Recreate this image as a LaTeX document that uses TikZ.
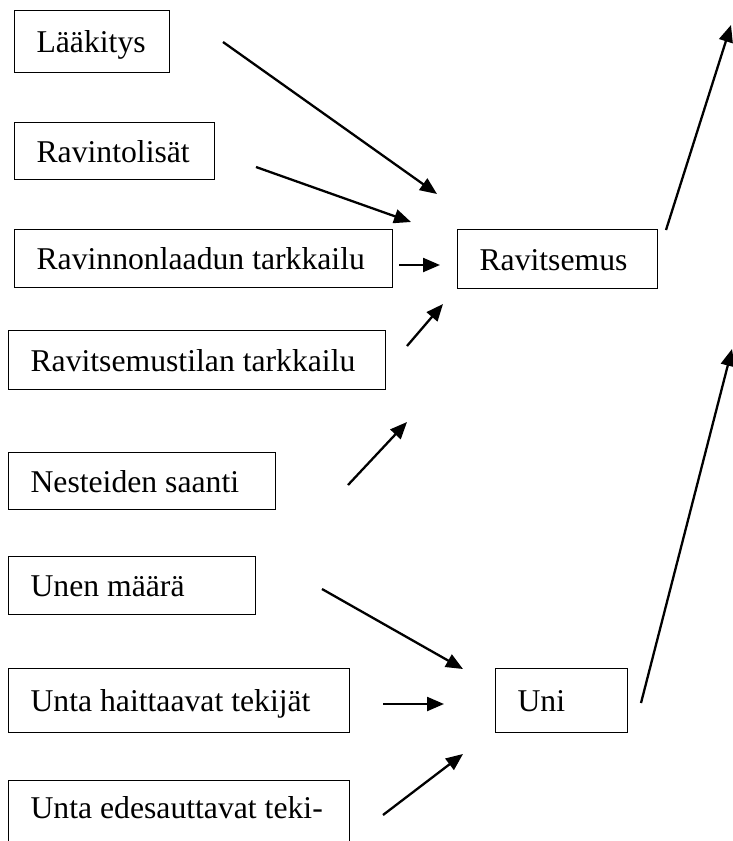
\documentclass[tikz,border=0pt]{standalone}
\usepackage{fontspec}
\setmainfont{Liberation Serif}
\usetikzlibrary{arrows.meta}
% fixed-width, left-aligned, never wrapped label
\newcommand\boxlabel[2]{\makebox[#1][l]{#2}}
\begin{document}
\begin{tikzpicture}[x=1pt,y=-1pt,
  box/.style={draw, line width=1.1pt, anchor=north west, inner xsep=22pt,
    inner ysep=0pt, text height=22pt, text depth=0pt,
    font=\fontsize{31.7}{38}\selectfont},
  link/.style={line width=2.3pt, -{Triangle[length=17pt,width=14pt]}}]
\clip (0,0) rectangle (733,841);

% factors behind nutrition
\node[box, minimum height=62pt] (lak)  at (14,10)  {\boxlabel{111pt}{Lääkitys}};
\node[box, minimum height=57pt] (vit)  at (14,122) {\boxlabel{156pt}{Ravintolisät}};
\node[box, minimum height=58pt] (lad)  at (14,229) {\boxlabel{334pt}{Ravinnonlaadun tarkkailu}};
\node[box, minimum height=59pt] (tila) at (8,330)  {\boxlabel{333pt}{Ravitsemustilan tarkkailu}};
\node[box, minimum height=57pt] (nest) at (8,452)  {\boxlabel{223pt}{Nesteiden saanti}};
\node[box, minimum height=59pt] (rav)  at (457,229) {\boxlabel{156pt}{Ravitsemus}};

% factors behind sleep
\node[box, minimum height=58pt] (unen) at (8,556)  {\boxlabel{203pt}{Unen määrä}};
\node[box, minimum height=64pt] (hait) at (8,668)  {\boxlabel{297pt}{Unta haittaavat tekijät}};
\node[box, inner ysep=16pt, text depth=40pt] (edes) at (8,780) {\boxlabel{297pt}{Unta edesauttavat teki-}};
\node[box, minimum height=64pt] (uni) at (495,668) {\boxlabel{88pt}{Uni}};

% arrow end points
\coordinate (lak-s)  at (223,42);   \coordinate (lak-t)  at (437,194);
\coordinate (vit-s)  at (256,167);  \coordinate (vit-t)  at (411,222);
\coordinate (lad-s)  at (399,265);  \coordinate (lad-t)  at (440,265);
\coordinate (tila-s) at (407,346);  \coordinate (tila-t) at (443,304);
\coordinate (nest-s) at (348,485);  \coordinate (nest-t) at (407,422);
\coordinate (rav-s)  at (666,230);  \coordinate (rav-t)  at (731,25);
\coordinate (unen-s) at (322,589);  \coordinate (unen-t) at (463,669);
\coordinate (hait-s) at (383,704);  \coordinate (hait-t) at (444,704);
\coordinate (edes-s) at (383,815);  \coordinate (edes-t) at (463,754);
\coordinate (uni-s)  at (641,703);  \coordinate (uni-t)  at (732,349);

\draw[link] (lak-s) -- (lak-t);
\draw[link] (vit-s) -- (vit-t);
\draw[link] (lad-s) -- (lad-t);
\draw[link] (tila-s) -- (tila-t);
\draw[link] (nest-s) -- (nest-t);
\draw[link] (rav-s) -- (rav-t);
\draw[link] (unen-s) -- (unen-t);
\draw[link] (hait-s) -- (hait-t);
\draw[link] (edes-s) -- (edes-t);
\draw[link] (uni-s) -- (uni-t);
\end{tikzpicture}
\end{document}
